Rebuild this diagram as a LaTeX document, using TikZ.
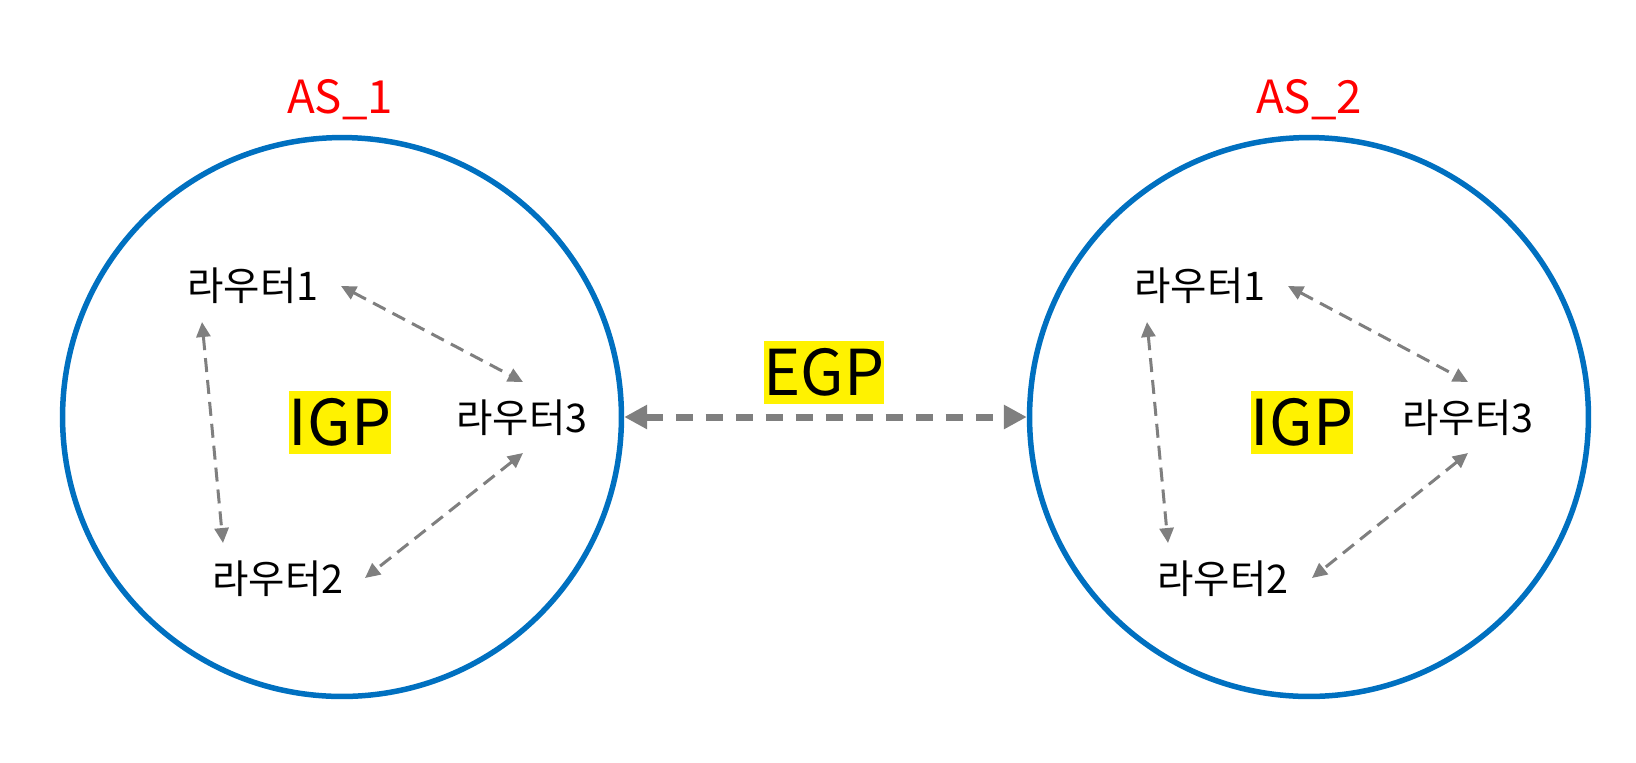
\documentclass[tikz,border=0pt]{standalone}
\usepackage{fontspec}
\setmainfont{Noto Sans CJK KR}
\usepackage{tikz}
\usetikzlibrary{arrows.meta,calc}
\definecolor{asblue}{HTML}{0070C0}
\definecolor{linkgray}{HTML}{7F7F7F}
\tikzstyle{asring}=[circle, draw=asblue, line width=0.11cm, minimum size=11.18cm, inner sep=0pt]
\tikzstyle{asname}=[text=red, inner sep=0pt, font=\fontsize{26}{26}\selectfont]
\tikzstyle{router}=[inner sep=0pt, font=\fontsize{22.5}{22.5}\selectfont]
\tikzstyle{proto}=[fill=yellow, inner sep=0pt, minimum height=1.26cm, font=\fontsize{36}{36}\selectfont]
\tikzstyle{igplink}=[linkgray, line width=0.06cm, dash pattern=on 0.28cm off 0.16cm, {Triangle[length=0.3cm,width=0.28cm]}-{Triangle[length=0.3cm,width=0.28cm]}]
\tikzstyle{egplink}=[linkgray, line width=0.14cm, dash pattern=on 0.34cm off 0.26cm, {Triangle[length=0.46cm,width=0.46cm]}-{Triangle[length=0.46cm,width=0.46cm]}]

\begin{document}
\begin{tikzpicture}[x=0.02cm, y=-0.02cm]
	\useasboundingbox (0,0) rectangle (1636,762);
	% AS_1
	\node[asring] (as1) at (342,417) {};
	\node[asname] (as1name) at (340,100) {AS\_1};
	\node[router] (ra) at (253,286) {라우터1};
	\node[router] (rb) at (278,579) {라우터2};
	\node[router] (rc) at (522,418) {라우터3};
	\node[proto, minimum width=1.96cm] (igpa) at (340,422) {IGP};
	\draw[igplink] ($(ra)+(88,0)$) -- ($(rc)+(1,-36)$);
	\draw[igplink] ($(ra)+(-51,36)$) -- ($(rb)+(-55,-36)$);
	\draw[igplink] ($(rc)+(1,35)$) -- ($(rb)+(87,-1)$);
	% AS_2
	\node[asring] (as2) at (1309,417) {};
	\node[asname] (as2name) at (1309,100) {AS\_2};
	\node[router] (sa) at (1200,286) {라우터1};
	\node[router] (sb) at (1223,579) {라우터2};
	\node[router] (sc) at (1468,418) {라우터3};
	\node[proto, minimum width=1.96cm] (igpb) at (1302,422) {IGP};
	\draw[igplink] ($(sa)+(88,0)$) -- ($(sc)+(0,-36)$);
	\draw[igplink] ($(sa)+(-53,36)$) -- ($(sb)+(-55,-36)$);
	\draw[igplink] ($(sc)+(0,35)$) -- ($(sb)+(89,-1)$);
	% EGP
	\node[proto, minimum width=2.32cm] (egp) at (824,372) {EGP};
	\draw[egplink] (as1.east) -- (as2.west);
\end{tikzpicture}
\end{document}
